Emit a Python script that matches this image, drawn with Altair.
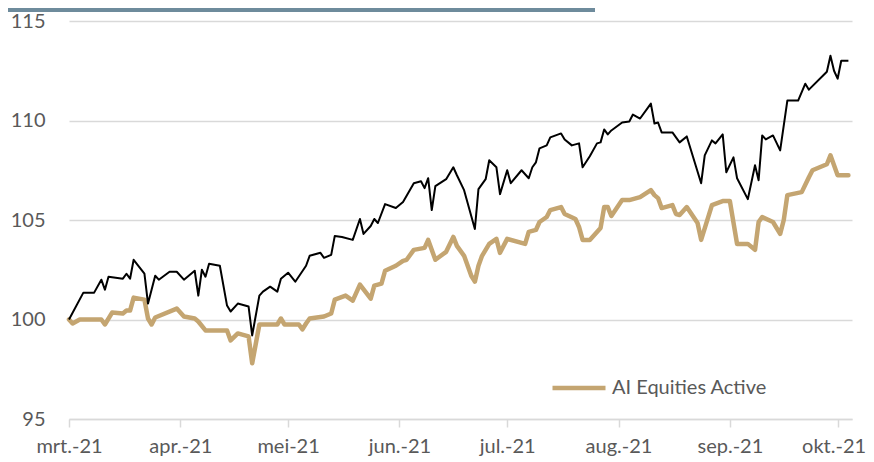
import altair as alt
import pandas as pd

# ---------------- data ----------------
bench_dates = [
    "2021-03-01", "2021-03-05", "2021-03-08", "2021-03-10", "2021-03-11", "2021-03-12",
    "2021-03-16", "2021-03-17", "2021-03-18", "2021-03-19", "2021-03-22", "2021-03-23",
    "2021-03-25", "2021-03-26", "2021-03-29", "2021-03-31", "2021-04-02", "2021-04-05",
    "2021-04-06", "2021-04-07", "2021-04-08", "2021-04-09", "2021-04-12", "2021-04-14",
    "2021-04-15", "2021-04-17", "2021-04-20", "2021-04-21", "2021-04-23", "2021-04-24",
    "2021-04-26", "2021-04-28", "2021-04-29", "2021-05-01", "2021-05-03", "2021-05-06",
    "2021-05-07", "2021-05-10", "2021-05-11", "2021-05-13", "2021-05-14", "2021-05-16",
    "2021-05-19", "2021-05-21", "2021-05-22", "2021-05-24", "2021-05-25", "2021-05-26",
    "2021-05-28", "2021-05-31", "2021-06-02", "2021-06-05", "2021-06-07", "2021-06-08",
    "2021-06-09", "2021-06-10", "2021-06-11", "2021-06-14", "2021-06-16", "2021-06-17",
    "2021-06-19", "2021-06-22", "2021-06-23", "2021-06-25", "2021-06-26", "2021-06-28",
    "2021-06-29", "2021-07-01", "2021-07-02", "2021-07-05", "2021-07-07", "2021-07-08",
    "2021-07-09", "2021-07-10", "2021-07-12", "2021-07-13", "2021-07-16", "2021-07-17",
    "2021-07-19", "2021-07-21", "2021-07-22", "2021-07-24", "2021-07-26", "2021-07-27",
    "2021-07-28", "2021-07-29", "2021-07-30", "2021-08-02", "2021-08-04", "2021-08-05",
    "2021-08-07", "2021-08-10", "2021-08-11", "2021-08-12", "2021-08-13", "2021-08-16",
    "2021-08-18", "2021-08-20", "2021-08-24", "2021-08-25", "2021-08-27", "2021-08-28",
    "2021-08-30", "2021-08-31", "2021-09-02", "2021-09-03", "2021-09-06", "2021-09-08",
    "2021-09-09", "2021-09-10", "2021-09-11", "2021-09-13", "2021-09-15", "2021-09-17",
    "2021-09-20", "2021-09-22", "2021-09-23", "2021-09-28", "2021-09-29", "2021-09-30",
    "2021-10-01", "2021-10-02", "2021-10-04",
]
bench_values = [
    100.0, 101.35, 101.35, 102.0, 101.5, 102.15,
    102.05, 102.3, 102.05, 103.0, 102.3, 100.8,
    102.2, 102.0, 102.4, 102.4, 102.0, 102.45,
    101.2, 102.5, 102.15, 102.8, 102.7, 100.7,
    100.4, 100.8, 100.65, 99.2, 101.2, 101.4,
    101.65, 101.4, 102.05, 102.35, 101.9, 102.7,
    103.2, 103.35, 103.1, 103.25, 104.2, 104.15,
    104.0, 105.05, 104.3, 104.7, 105.05, 104.85,
    105.8, 105.6, 105.9, 106.85, 106.95, 106.6,
    107.1, 105.5, 106.7, 107.05, 107.65, 107.25,
    106.5, 104.55, 106.55, 107.05, 108.0, 107.65,
    106.3, 107.5, 106.85, 107.5, 107.1, 107.65,
    107.9, 108.6, 108.75, 109.15, 109.35, 109.05,
    108.75, 108.85, 107.65, 108.2, 108.85, 108.9,
    109.55, 109.3, 109.5, 109.9, 109.95, 110.3,
    110.1, 110.85, 109.85, 109.9, 109.4, 109.4,
    108.9, 109.2, 106.85, 108.25, 109.0, 108.85,
    109.3, 107.4, 108.15, 107.1, 106.05, 107.75,
    107.0, 109.25, 109.05, 109.25, 108.5, 111.0,
    111.0, 111.85, 111.55, 112.45, 113.25, 112.5,
    112.1, 113.0, 113.0,
]

ai_dates = [
    "2021-03-01", "2021-03-02", "2021-03-04", "2021-03-10", "2021-03-11", "2021-03-13",
    "2021-03-16", "2021-03-17", "2021-03-18", "2021-03-19", "2021-03-22", "2021-03-23",
    "2021-03-24", "2021-03-25", "2021-03-31", "2021-04-02", "2021-04-05", "2021-04-06",
    "2021-04-08", "2021-04-14", "2021-04-15", "2021-04-17", "2021-04-20", "2021-04-21",
    "2021-04-23", "2021-04-28", "2021-04-29", "2021-04-30", "2021-05-04", "2021-05-05",
    "2021-05-06", "2021-05-07", "2021-05-11", "2021-05-13", "2021-05-14", "2021-05-17",
    "2021-05-19", "2021-05-21", "2021-05-24", "2021-05-25", "2021-05-27", "2021-05-28",
    "2021-05-31", "2021-06-02", "2021-06-03", "2021-06-05", "2021-06-08", "2021-06-09",
    "2021-06-11", "2021-06-14", "2021-06-16", "2021-06-17", "2021-06-19", "2021-06-21",
    "2021-06-22", "2021-06-23", "2021-06-24", "2021-06-26", "2021-06-28", "2021-06-29",
    "2021-07-01", "2021-07-06", "2021-07-07", "2021-07-09", "2021-07-10", "2021-07-12",
    "2021-07-13", "2021-07-16", "2021-07-17", "2021-07-20", "2021-07-21", "2021-07-22",
    "2021-07-24", "2021-07-27", "2021-07-28", "2021-07-29", "2021-07-30", "2021-08-02",
    "2021-08-04", "2021-08-06", "2021-08-07", "2021-08-10", "2021-08-11", "2021-08-12",
    "2021-08-13", "2021-08-16", "2021-08-17", "2021-08-18", "2021-08-20", "2021-08-23",
    "2021-08-24", "2021-08-27", "2021-08-30", "2021-09-01", "2021-09-03", "2021-09-06",
    "2021-09-08", "2021-09-09", "2021-09-10", "2021-09-13", "2021-09-15", "2021-09-16",
    "2021-09-17", "2021-09-21", "2021-09-23", "2021-09-24", "2021-09-28", "2021-09-29",
    "2021-10-01", "2021-10-04",
]
ai_values = [
    100.0, 99.8, 100.0, 100.0, 99.75, 100.35,
    100.3, 100.45, 100.45, 101.1, 101.0, 100.05,
    99.75, 100.1, 100.55, 100.15, 100.05, 99.9,
    99.45, 99.45, 98.95, 99.3, 99.15, 97.8,
    99.75, 99.75, 100.05, 99.75, 99.75, 99.5,
    99.8, 100.05, 100.15, 100.3, 101.0, 101.2,
    100.95, 101.75, 101.05, 101.7, 101.8, 102.45,
    102.7, 102.95, 103.0, 103.5, 103.6, 104.0,
    103.0, 103.4, 104.15, 103.7, 103.2, 102.2,
    101.9, 102.7, 103.2, 103.8, 104.05, 103.35,
    104.05, 103.8, 104.4, 104.5, 104.9, 105.15,
    105.5, 105.65, 105.3, 105.05, 104.65, 104.0,
    104.0, 104.6, 105.65, 105.65, 105.2, 106.0,
    106.0, 106.1, 106.15, 106.5, 106.25, 106.1,
    105.6, 105.75, 105.3, 105.25, 105.65, 104.85,
    104.0, 105.75, 105.95, 105.95, 103.8, 103.8,
    103.5, 104.9, 105.15, 104.9, 104.3, 105.0,
    106.25, 106.4, 107.15, 107.5, 107.8, 108.25,
    107.25, 107.25,
]

series_name = "AI Equities Active"
month_labels = ["mrt.-21", "apr.-21", "mei-21", "jun.-21", "jul.-21", "aug.-21", "sep.-21", "okt.-21"]
month_numbers = [3, 4, 5, 6, 7, 8, 9, 10]
y_ticks = [95, 100, 105, 110, 115]

# ---------------- tables ----------------
bench_df = pd.DataFrame({"date": [d + "T00:00:00" for d in bench_dates], "value": bench_values})
ai_df = pd.DataFrame({"date": [d + "T00:00:00" for d in ai_dates], "value": ai_values,
                      "series": series_name})

FONT = "Lato"
GREY_TXT = "#595959"
GRID = "#d9d9d9"
TAN = "#c4a571"

label_expr = "[" + ",".join("'" + s + "'" for s in month_labels) + "][month(datum.value)-2]"

x_scale = alt.Scale(domain=[alt.DateTime(year=2021, month=3, date=1),
                            alt.DateTime(year=2021, month=10, date=5)])
y_scale = alt.Scale(domain=[95, 115], nice=False, zero=False)

x_axis = alt.Axis(
    values=[alt.DateTime(year=2021, month=m, date=1) for m in month_numbers],
    labelExpr=label_expr, title=None, grid=False,
    domain=True, domainColor=GRID, domainWidth=1.5,
    ticks=True, tickColor=GRID, tickWidth=1.5, tickSize=8,
    labelFont=FONT, labelFontSize=20, labelColor=GREY_TXT, labelPadding=9,
    labelAlign="center", labelOverlap=False, labelBound=False, labelFlush=False,
    labelOffset={"condition": {"test": "month(datum.value) == 9", "value": -4}, "value": 0},
)
y_axis = alt.Axis(
    values=y_ticks, title=None, grid=True, gridColor=GRID, gridWidth=1.5,
    domain=False, ticks=False, labelFont=FONT, labelFontSize=20,
    labelColor=GREY_TXT, labelPadding=24,
)

top_bar = alt.Chart(pd.DataFrame({"k": [0]})).mark_rect(color="#6e8b9c").encode(
    x=alt.value(-61), x2=alt.value(526), y=alt.value(-13), y2=alt.value(-9)
)

ai_line = alt.Chart(ai_df).mark_line(strokeWidth=4.5, strokeJoin="round", strokeCap="round").encode(
    x=alt.X("date:T", scale=x_scale, axis=x_axis),
    y=alt.Y("value:Q", scale=y_scale, axis=y_axis),
    color=alt.Color("series:N", scale=alt.Scale(domain=[series_name], range=[TAN]),
                    legend=alt.Legend(orient="none", legendX=481, legendY=338, title=None,
                                      symbolType="stroke", symbolSize=2809, symbolStrokeWidth=4.5,
                                      labelFont=FONT, labelFontSize=20, labelColor=GREY_TXT,
                                      labelOffset=4, padding=0)),
)

bench_line = alt.Chart(bench_df).mark_line(strokeWidth=2, color="#000000",
                                          strokeJoin="round").encode(
    x=alt.X("date:T", scale=x_scale),
    y=alt.Y("value:Q", scale=y_scale),
)

chart = alt.layer(top_bar, ai_line, bench_line).properties(
    width=783, height=398,
    padding={"left": 61, "top": 13, "right": 14, "bottom": 43},
    autosize=alt.AutoSizeParams(type="none"),
    background="white",
).configure_view(stroke=None)

chart.save("out.html", embed_options={"renderer": "svg", "actions": False})
